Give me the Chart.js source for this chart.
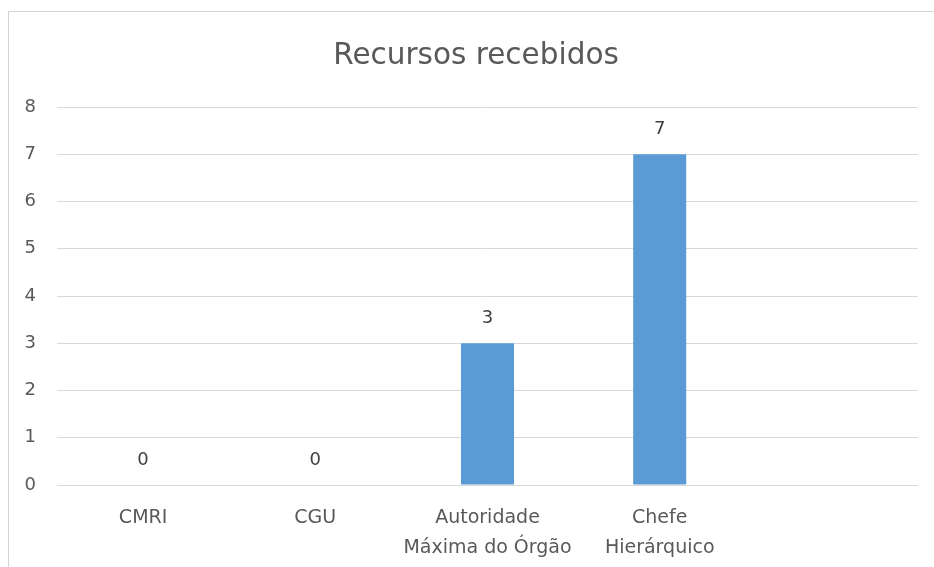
<!DOCTYPE html>
<html>
<head>
<meta charset="utf-8">
<script src="https://cdn.jsdelivr.net/npm/chart.js@4"></script>
<style>
  html, body { margin: 0; padding: 0; background: #fff; overflow: hidden; }
  #frame { position: absolute; left: 8px; top: 11px; width: 1000px; height: 1000px;
           border-top: 1px solid #d4d4d4; border-left: 1px solid #d4d4d4; }
  #recursos { position: absolute; left: 0; top: 0; }
</style>
</head>
<body>
<div id="frame"></div>
<canvas id="recursos" width="934" height="567"></canvas>
<script>
const titulo = 'Recursos recebidos';
const categorias = ['CMRI', 'CGU', ['Autoridade', 'Máxima do Órgão'], ['Chefe', 'Hierárquico'], ''];
const recursos = [0, 0, 3, 7, null];
const yTicks = [0, 1, 2, 3, 4, 5, 6, 7, 8];

const fonte = '"DejaVu Sans", "Open Sans", sans-serif';
Chart.defaults.font.family = fonte;
Chart.defaults.color = '#595959';

// título centrado na moldura do gráfico (que passa da borda direita)
const tituloPlugin = {
    id: 'tituloPlugin',
    afterDraw(chart) {
        const ctx = chart.ctx;
        ctx.save();
        ctx.fillStyle = '#595959';
        ctx.font = '29.5px ' + fonte;
        ctx.textAlign = 'center';
        ctx.textBaseline = 'middle';
        ctx.fillText(titulo, 476, 56);
        ctx.restore();
    }
};

// rótulos de valor acima das barras
const rotulos = {
    id: 'rotulos',
    afterDatasetsDraw(chart) {
        const ctx = chart.ctx;
        const meta = chart.getDatasetMeta(0);
        ctx.save();
        ctx.fillStyle = '#404040';
        ctx.font = '18px ' + fonte;
        ctx.textAlign = 'center';
        ctx.textBaseline = 'middle';
        meta.data.forEach((bar, i) => {
            const v = recursos[i];
            if (v === null) return;
            ctx.fillText(String(v), bar.x, bar.y - 25);
        });
        ctx.restore();
    }
};

const ctx = document.getElementById('recursos');

new Chart(ctx, {
    type: 'bar',
    data: {
        labels: categorias,
        datasets: [{
            label: titulo,
            data: recursos,
            backgroundColor: '#5b9bd5',
            borderWidth: 0,
            categoryPercentage: 1,
            barPercentage: 0.308
        }]
    },
    options: {
        responsive: false,
        animation: false,
        layout: { padding: { left: 0, right: 16, top: 107, bottom: 0 } },
        plugins: {
            legend: { display: false },
            tooltip: { enabled: false },
            title: { display: false }
        },
        scales: {
            x: {
                grid: { display: false },
                border: { display: false },
                ticks: {
                    padding: 10,
                    maxRotation: 0,
                    autoSkip: false,
                    font: { size: 19, lineHeight: '30px' }
                },
                afterFit(scale) { scale.height = 82; }
            },
            y: {
                min: 0,
                max: 8,
                afterBuildTicks(scale) { scale.ticks = yTicks.map(v => ({ value: v })); },
                grid: { color: '#d9d9d9', lineWidth: 1, drawTicks: false },
                border: { display: false },
                ticks: { padding: 21, font: { size: 18 } },
                afterFit(scale) { scale.width = 57; }
            }
        }
    },
    plugins: [rotulos, tituloPlugin]
});
</script>
</body>
</html>
